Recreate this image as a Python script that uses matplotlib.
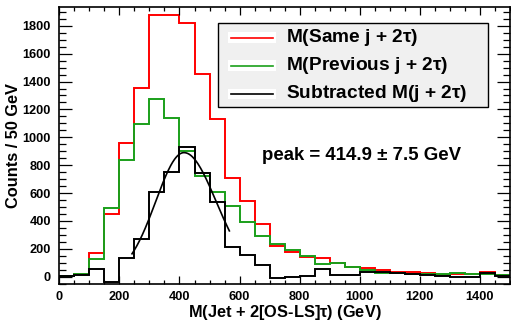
import numpy as np
import matplotlib
matplotlib.use('Agg')
import matplotlib.pyplot as pl
from matplotlib.patches import Rectangle, Shadow
from matplotlib.ticker import MultipleLocator

#--------------------------------------------------------------------------------------------
# histogram contents, 50 GeV bins from 0 to 1500

edges = np.arange(0., 1501., 50.)

sameJet = [7, 17, 168, 450, 957, 1356, 1880, 1875, 1822, 1456, 1133, 705, 543, 376, 223,
           175, 144, 137, 100, 72, 65, 48, 36, 36, 24, 12, 19, 19, 34, 14]
prevJet = [7, 17, 127, 495, 837, 1098, 1277, 1136, 902, 725, 610, 509, 395, 294, 235,
           191, 148, 91, 96, 72, 48, 24, 24, 19, 19, 19, 27, 19, 19, 10]
subtracted = [7, 12, 53, -36, 132, 268, 610, 749, 933, 742, 534, 211, 156, 84, -7,
              0, 5, 53, 12, 10, 34, 34, 24, 19, 14, 5, 0, -3, 24, 5]

legendLabels = [r'M(Same j + 2$\mathbf{\tau}$)', r'M(Previous j + 2$\mathbf{\tau}$)',
                r'Subtracted M(j + 2$\mathbf{\tau}$)']
colors = ['#ff0000', '#1a9f1a', 'k']

# fit (slightly asymmetric gaussian shape as drawn)
fitPeak = 414.9
fitErr = 7.5
fitAmp = 890.
fitSigLo = 94.
fitSigHi = 107.
fitRange = [242., 566.]

#--------------------------------------------------------------------------------------------

pl.rcParams['font.family'] = 'Liberation Sans'
pl.rcParams['font.weight'] = 'bold'
pl.rcParams['mathtext.fontset'] = 'custom'
pl.rcParams['mathtext.bf'] = 'Liberation Sans:bold'
pl.rcParams['mathtext.rm'] = 'Liberation Sans:bold'

W, H = 511., 322.
fig1 = pl.figure(figsize=(W/100., H/100.), dpi=100)
ax11 = fig1.add_axes([59.3/W, 1.-284.3/H, 450.7/W, 277.6/H])

def fx(px): return px/W
def fy(py): return 1. - py/H

for vals, c in zip([sameJet, prevJet, subtracted], colors):
    ax11.stairs(vals, edges, color=c, lw=1.4, baseline=None)

xf = np.linspace(fitRange[0], fitRange[1], 200)
sig = np.where(xf < fitPeak, fitSigLo, fitSigHi)
ax11.plot(xf, fitAmp*np.exp(-0.5*((xf-fitPeak)/sig)**2), 'k-', lw=1.2)

ax11.set_xlim([0., 1500.])
ax11.set_ylim([-55., 1937.])

ax11.xaxis.set_major_locator(MultipleLocator(200))
ax11.xaxis.set_minor_locator(MultipleLocator(50))
ax11.yaxis.set_major_locator(MultipleLocator(200))
ax11.yaxis.set_minor_locator(MultipleLocator(50))
ax11.tick_params(which='both', direction='in', top=True, right=True, labelsize=9.2, width=0.9)
ax11.tick_params(axis='x', which='major', length=5.8, pad=5)
ax11.tick_params(axis='x', which='minor', length=2.9)
ax11.tick_params(axis='y', which='major', length=9.4, pad=6)
ax11.tick_params(axis='y', which='minor', length=5.)
for s in ax11.spines.values():
    s.set_linewidth(1.2)
for lab in ax11.get_xticklabels() + ax11.get_yticklabels():
    lab.set_fontweight('bold')

fig1.text(fx(285), fy(312), r'M(Jet + 2[OS-LS]$\mathbf{\tau}$) (GeV)', ha='center', va='center',
          fontsize=11.8, fontweight='bold')
fig1.text(fx(13.5), fy(146), 'Counts / 50 GeV', ha='center', va='center', rotation=90,
          fontsize=11.8, fontweight='bold')

#------------------
# legend box, ROOT style

box = Rectangle((fx(218), fy(107)), fx(488)-fx(218), fy(23)-fy(107), transform=fig1.transFigure,
                facecolor='#f0f0f0', edgecolor='k', lw=1.0, zorder=5)
shadow = Shadow(box, 2.4, -2.4, facecolor='k', alpha=1., zorder=4)
shadow.set_transform(fig1.transFigure)
fig1.patches.append(shadow)
fig1.patches.append(box)

rows = [37.7, 65.7, 94.]
for lab, c, py in zip(legendLabels, colors, rows):
    fig1.patches.append(Rectangle((fx(228), fy(py+5.5)), fx(276)-fx(228), fy(py-5.5)-fy(py+5.5),
                                  transform=fig1.transFigure, facecolor='w', edgecolor='none', zorder=6))
    fig1.lines.append(pl.Line2D([fx(231), fx(273)], [fy(py), fy(py)], transform=fig1.transFigure,
                                color=c, lw=1.2, zorder=7))
    fig1.text(fx(286), fy(py), lab, ha='left', va='center', fontsize=13.8, fontweight='bold', zorder=8)

fig1.text(fx(262), fy(155), 'peak = %.1f \u00b1 %.1f GeV' % (fitPeak, fitErr), ha='left', va='center',
          fontsize=13.4, fontweight='bold')

#--------------------------------------------------------------------------------------------

fig1.savefig('out.png', dpi=100)
